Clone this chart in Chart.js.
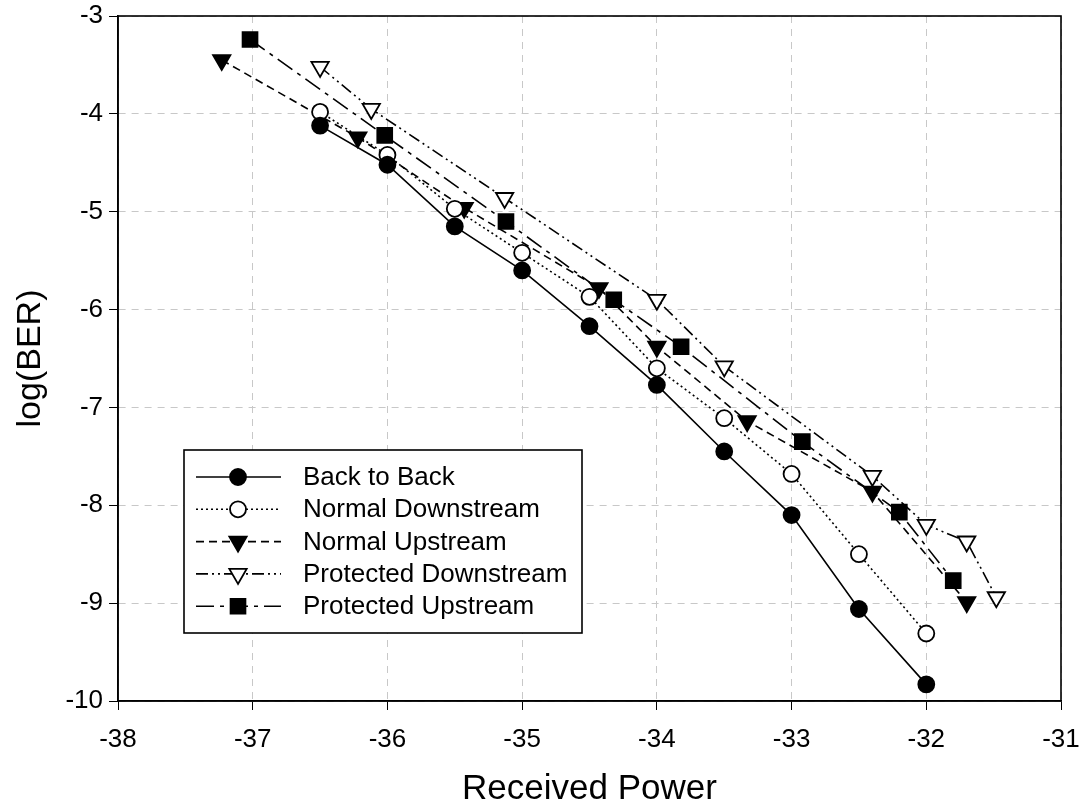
<!DOCTYPE html>
<html>
<head>
<meta charset="utf-8">
<script src="https://cdn.jsdelivr.net/npm/chart.js@4.4.1/dist/chart.umd.min.js"></script>
<style>
  html, body { margin: 0; padding: 0; background: #ffffff; }
  #wrap { width: 1086px; height: 806px; }
</style>
</head>
<body>
<div id="wrap"><canvas id="c" width="1086" height="806"></canvas></div>
<script>
// Received power (dBm) and log(BER) for each link configuration
const seriesNames = ['Back to Back', 'Normal Downstream', 'Normal Upstream', 'Protected Downstream', 'Protected Upstream'];

const backToBackX = [-36.5, -36, -35.5, -35, -34.5, -34, -33.5, -33, -32.5, -32];
const backToBackY = [-4.12, -4.52, -5.15, -5.6, -6.17, -6.77, -7.45, -8.1, -9.06, -9.83];

const normalDownX = [-36.5, -36, -35.5, -35, -34.5, -34, -33.5, -33, -32.5, -32];
const normalDownY = [-3.98, -4.42, -4.97, -5.42, -5.87, -6.6, -7.11, -7.68, -8.5, -9.31];

const normalUpX = [-37.23, -36.22, -35.43, -34.43, -34.0, -33.33, -32.4, -31.7];
const normalUpY = [-3.45, -4.24, -4.96, -5.78, -6.38, -7.14, -7.86, -8.99];

const protDownX = [-36.5, -36.12, -35.13, -34.0, -33.5, -32.4, -32.0, -31.7, -31.48];
const protDownY = [-3.52, -3.95, -4.86, -5.9, -6.58, -7.7, -8.2, -8.37, -8.94];

const protUpX = [-37.02, -36.02, -35.12, -34.32, -33.82, -32.92, -32.2, -31.8];
const protUpY = [-3.24, -4.22, -5.1, -5.9, -6.38, -7.35, -8.07, -8.77];

const xTicks = [-38, -37, -36, -35, -34, -33, -32, -31];
const yTicks = [-10, -9, -8, -7, -6, -5, -4, -3];

const FONT = '"Liberation Sans", Arial, sans-serif';

function pairs(xs, ys) { return xs.map((x, i) => ({ x: x, y: ys[i] })); }

function makeSet(label, xs, ys, dash, style, filled, radius, rotation) {
  return {
    label: label,
    data: pairs(xs, ys),
    borderColor: '#000',
    borderWidth: 1.6,
    borderDash: dash,
    backgroundColor: filled ? '#000' : '#fff',
    pointStyle: style,
    pointRadius: radius,
    pointHoverRadius: radius,
    pointRotation: rotation,
    pointBorderColor: '#000',
    pointBackgroundColor: filled ? '#000' : '#fff',
    pointBorderWidth: 1.8,
    showLine: true,
    tension: 0,
    fill: false
  };
}

const datasets = [
  makeSet(seriesNames[0], backToBackX, backToBackY, [], 'circle', true, 8, 0),
  makeSet(seriesNames[1], normalDownX, normalDownY, [2, 3], 'circle', false, 8, 0),
  makeSet(seriesNames[2], normalUpX, normalUpY, [8, 5], 'triangle', true, 10, 180),
  makeSet(seriesNames[3], protDownX, protDownY, [12, 4, 2, 4, 2, 4], 'triangle', false, 10, 180),
  makeSet(seriesNames[4], protUpX, protUpY, [18, 6, 4, 6], 'rect', true, 10.5, 0)
];

// Draws one marker in the same shapes the datasets use
function marker(ctx, ds, x, y) {
  ctx.save();
  ctx.setLineDash([]);
  ctx.lineWidth = ds.pointBorderWidth;
  ctx.strokeStyle = '#000';
  ctx.fillStyle = ds.pointBackgroundColor;
  ctx.beginPath();
  const r = ds.pointRadius;
  if (ds.pointStyle === 'circle') {
    ctx.arc(x, y, r, 0, Math.PI * 2);
  } else if (ds.pointStyle === 'triangle') {
    const s = Math.sin(Math.PI / 3) * r;
    ctx.moveTo(x, y + r);
    ctx.lineTo(x - s, y - r / 2);
    ctx.lineTo(x + s, y - r / 2);
    ctx.closePath();
  } else {
    const h = r * Math.SQRT1_2;
    ctx.rect(x - h, y - h, 2 * h, 2 * h);
  }
  ctx.fill();
  ctx.stroke();
  ctx.restore();
}

const whiteBg = {
  id: 'whiteBg',
  beforeDraw(chart) {
    const ctx = chart.ctx;
    ctx.save();
    ctx.fillStyle = '#fff';
    ctx.fillRect(0, 0, chart.width, chart.height);
    ctx.restore();
  }
};

const frame = {
  id: 'frame',
  afterDatasetsDraw(chart) {
    const a = chart.chartArea;
    const ctx = chart.ctx;
    ctx.save();
    ctx.strokeStyle = '#000';
    ctx.lineWidth = 1.6;
    ctx.setLineDash([]);
    ctx.strokeRect(a.left, a.top, a.right - a.left, a.bottom - a.top);
    ctx.restore();
  }
};

const boxLegend = {
  id: 'boxLegend',
  afterDraw(chart) {
    const ctx = chart.ctx;
    const bx = 184, by = 450, bw = 398, bh = 183;
    ctx.save();
    ctx.fillStyle = '#fff';
    ctx.fillRect(bx, by, bw, bh);
    ctx.strokeStyle = '#000';
    ctx.lineWidth = 1.6;
    ctx.setLineDash([]);
    ctx.strokeRect(bx, by, bw, bh);
    ctx.font = '26px ' + FONT;
    ctx.textBaseline = 'middle';
    ctx.textAlign = 'left';
    chart.data.datasets.forEach((ds, i) => {
      const y = by + 27 + i * 32.3;
      ctx.save();
      ctx.strokeStyle = '#000';
      ctx.lineWidth = ds.borderWidth;
      ctx.setLineDash(ds.borderDash);
      ctx.beginPath();
      ctx.moveTo(196, y);
      ctx.lineTo(281, y);
      ctx.stroke();
      ctx.restore();
      marker(ctx, ds, 238, y);
      ctx.fillStyle = '#000';
      ctx.fillText(ds.label, 303, y + 1);
    });
    ctx.restore();
  }
};

new Chart(document.getElementById('c'), {
  type: 'scatter',
  data: { datasets: datasets },
  options: {
    responsive: false,
    animation: false,
    layout: { padding: { top: 16, right: 25, left: 0, bottom: 0 } },
    plugins: {
      legend: { display: false },
      tooltip: { enabled: false }
    },
    scales: {
      x: {
        type: 'linear',
        min: -38,
        max: -31,
        afterFit(scale) {
          scale.height = 105;
          scale.paddingLeft = 0;
          scale.paddingRight = 0;
        },
        afterBuildTicks(scale) { scale.ticks = xTicks.map(v => ({ value: v })); },
        ticks: {
          color: '#000',
          font: { family: FONT, size: 26 },
          padding: 14,
          callback: v => String(v)
        },
        grid: {
          color: '#c8c8c8',
          lineWidth: 1,
          tickColor: '#000',
          tickLength: 9,
          drawTicks: true
        },
        border: { color: '#000', width: 1.6, dash: [7, 6] },
        title: {
          display: true,
          text: 'Received Power',
          color: '#000',
          font: { family: FONT, size: 35 },
          padding: { top: 0, bottom: -4 }
        }
      },
      y: {
        type: 'linear',
        min: -10,
        max: -3,
        afterFit(scale) {
          scale.width = 118;
          scale.paddingTop = 0;
          scale.paddingBottom = 0;
        },
        afterBuildTicks(scale) { scale.ticks = yTicks.map(v => ({ value: v })); },
        ticks: {
          color: '#000',
          font: { family: FONT, size: 26 },
          padding: 6,
          callback: v => String(v)
        },
        grid: {
          color: '#c8c8c8',
          lineWidth: 1,
          tickColor: '#000',
          tickLength: 9
        },
        border: { color: '#000', width: 1.6, dash: [7, 6] },
        title: {
          display: true,
          text: 'log(BER)',
          color: '#000',
          font: { family: FONT, size: 34 },
          padding: { top: 10, bottom: 0 }
        }
      }
    }
  },
  plugins: [whiteBg, frame, boxLegend]
});
</script>
</body>
</html>
